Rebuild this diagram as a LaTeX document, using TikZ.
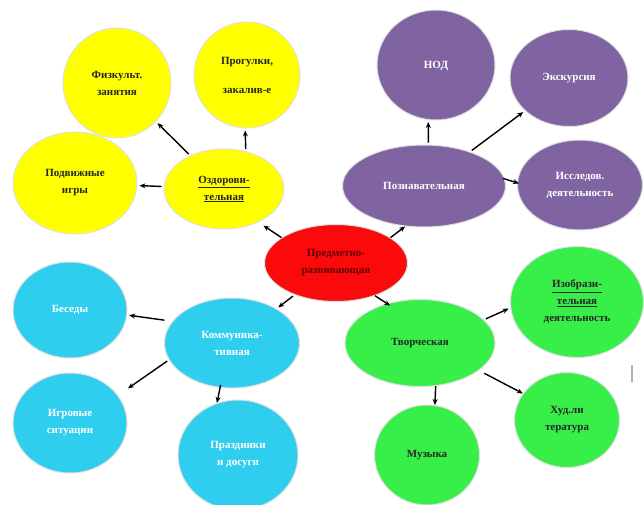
\documentclass[tikz,border=0pt]{standalone}
\usepackage{fontspec}
\setmainfont{Liberation Serif}
\usepackage{tikz}
\usetikzlibrary{arrows.meta,shapes.geometric}
\definecolor{coulJaune}{RGB}{255,255,0}
\definecolor{coulViolet}{RGB}{128,100,162}
\definecolor{coulCyan}{RGB}{48,206,238}
\definecolor{coulVert}{RGB}{56,238,72}
\definecolor{coulRouge}{RGB}{250,10,10}
\tikzset{
  bulle/.style={ellipse, draw=black!12, line width=1pt, inner sep=0pt, align=center,
    font=\bfseries\fontsize{11}{17}\selectfont},
  sante/.style={bulle, fill=coulJaune, text=black!85},
  savoir/.style={bulle, fill=coulViolet, text=white},
  parole/.style={bulle, fill=coulCyan, text=white},
  art/.style={bulle, fill=coulVert, text=black!85},
  centre/.style={bulle, fill=coulRouge, text=red!40!black},
  fleche/.style={-{Stealth[length=6pt,width=5pt]}, line width=1.4pt, shorten <=2pt, shorten >=2pt}
}

\begin{document}
\begin{tikzpicture}[x=1pt,y=-1pt]
\useasboundingbox (0,0) rectangle (644,504);
\node [centre, minimum width=143pt, minimum height=77pt] (noeudcentre) at (336,263) {Предметно-\\развивающая};
\node [sante, minimum width=120pt, minimum height=80pt] (noeudozd) at (224,189) {\underline{Оздорови-}\\\underline{тельная}};
\node [sante, minimum width=108pt, minimum height=110pt] (noeudfiz) at (117,83) {Физкульт.\\занятия};
\node [sante, minimum width=106pt, minimum height=106pt] (noeudprog) at (247,75) {Прогулки,\\[12pt]закалив-е};
\node [sante, minimum width=124pt, minimum height=102pt] (noeudpodv) at (75,183) {Подвижные\\игры};
\node [savoir, minimum width=163pt, minimum height=82pt] (noeudposn) at (424,186) {Познавательная};
\node [savoir, minimum width=118pt, minimum height=110pt] (noeudnod) at (436,65) {\raisebox{-10pt}{НОД}};
\node [savoir, minimum width=118pt, minimum height=97pt] (noeudexc) at (569,78) {Экскурсия};
\node [savoir, minimum width=125pt, minimum height=90pt] (noeudissl) at (580,185) {Исследов.\\деятельность};
\node [parole, minimum width=135pt, minimum height=90pt] (noeudkomm) at (232,343) {Коммуника-\\тивная};
\node [parole, minimum width=114pt, minimum height=96pt] (noeudbes) at (70,310) {Беседы};
\node [parole, minimum width=114pt, minimum height=100pt] (noeudigr) at (70,423) {Игровые\\ситуации};
\node [parole, minimum width=120pt, minimum height=110pt] (noeudprazd) at (238,455) {Праздники\\и досуги};
\node [art, minimum width=150pt, minimum height=87pt] (noeudtvor) at (420,343) {Творческая};
\node [art, minimum width=133pt, minimum height=111pt] (noeudizob) at (577,302) {\underline{Изобрази-}\\\underline{тельная}\\деятельность};
\node [art, minimum width=105pt, minimum height=95pt] (noeudhud) at (567,420) {Худ.ли\\тература};
\node [art, minimum width=105pt, minimum height=100pt] (noeudmuz) at (427,455) {Музыка};
\draw [fleche, shorten <=0pt, shorten >=6pt] (noeudcentre.155) -- (noeudozd.316);
\draw [fleche, shorten <=0pt, shorten >=0pt] (noeudcentre.25) -- (noeudposn.245);
\draw [fleche] (noeudcentre) -- (noeudkomm);
\draw [fleche, shorten <=0pt, shorten >=-4pt] (noeudcentre.320) -- (noeudtvor.130);
\draw [fleche] (noeudozd) -- (noeudfiz);
\draw [fleche] (noeudozd.60) -- (noeudprog.268);
\draw [fleche] (noeudozd) -- (noeudpodv);
\draw [fleche] (noeudposn.84) -- (noeudnod.262);
\draw [fleche] (noeudposn) -- (noeudexc);
\draw [fleche, shorten <=-2pt, shorten >=-2pt] (noeudposn.5) -- (noeudissl.178);
\draw [fleche, shorten <=8pt] (noeudkomm.160) -- (noeudbes.355);
\draw [fleche, shorten >=12pt] (noeudkomm.195) -- (noeudigr.30);
\draw [fleche, shorten <=-3pt, shorten >=0pt] (noeudkomm.255) -- (noeudprazd.112);
\draw [fleche] (noeudtvor.20) -- (noeudizob.185);
\draw [fleche, shorten <=6pt, shorten >=0pt] (noeudtvor.335) -- (noeudhud.149);
\draw [fleche, shorten <=0pt, shorten >=0pt] (noeudtvor.290) -- (noeudmuz.81);
\draw [gray!60, line width=2pt] (632,365) -- (632,382);
\end{tikzpicture}
\end{document}
